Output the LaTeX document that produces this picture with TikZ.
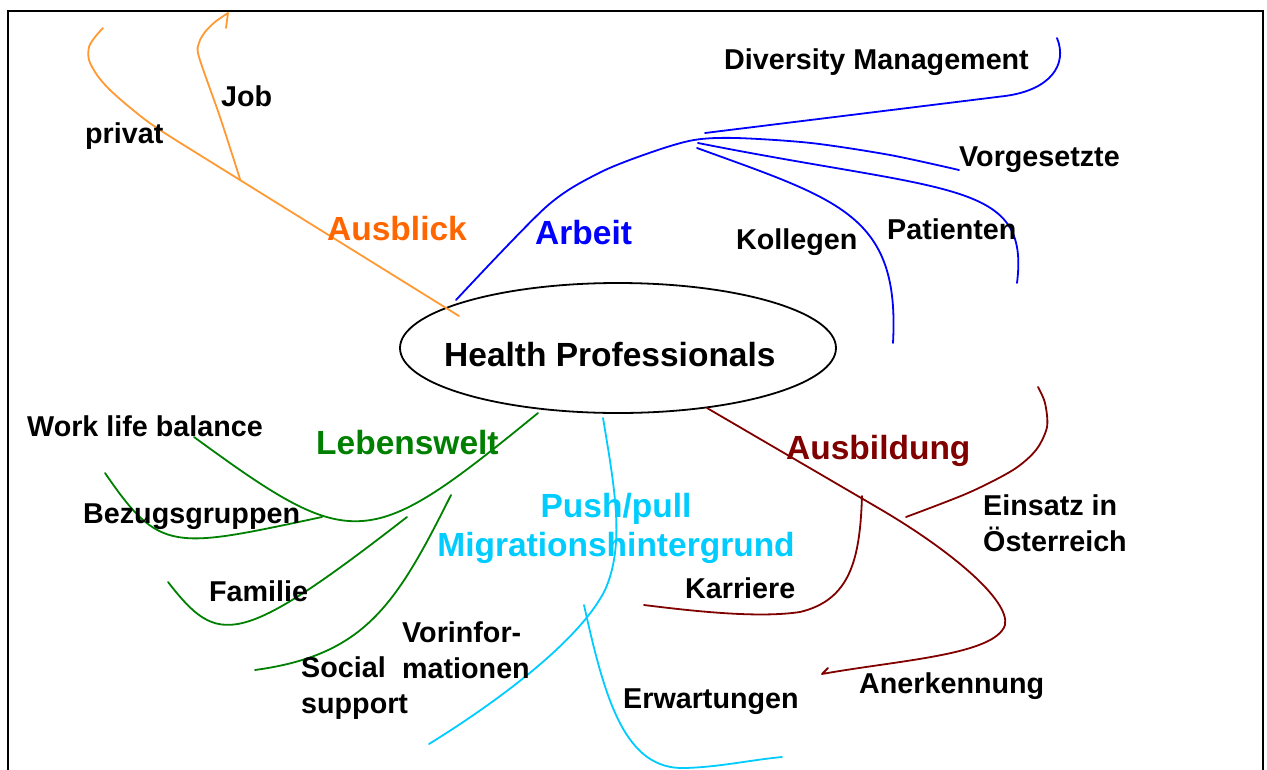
\documentclass[tikz,border=0pt]{standalone}
\usepackage{fontspec}
\setmainfont{Liberation Sans}
\usepackage{xcolor}
\usepackage{tikz}
\usetikzlibrary{shapes.geometric}

\definecolor{orangeline}{RGB}{255,153,51}
\definecolor{orangetext}{RGB}{255,102,0}
\definecolor{arbeitblue}{RGB}{0,0,255}
\definecolor{lebensgreen}{RGB}{0,128,0}
\definecolor{pushcyan}{RGB}{0,204,255}
\definecolor{ausbildred}{RGB}{128,0,0}

\begin{document}
\begin{tikzpicture}[
    x                 = 1pt,
    y                 = -1pt,
    every node/.style = {inner sep=0pt, font=\fontsize{28.7}{36}\selectfont\bfseries},
    topic/.style      = {font=\fontsize{33.5}{39}\selectfont\bfseries},
    branch/.style     = {line width=1.8pt, line join=round, line cap=round},
    label/.style      = {anchor=base west, align=left}
  ]
\useasboundingbox (0,0) rectangle (1267,769);
\draw[line width=2pt] (8,775) -- (8,11) -- (1263,11) -- (1263,775);

% centre
\node[draw, ellipse, line width=1.8pt, minimum width=436, minimum height=130] (hp) at (618,348) {};
\node[topic, anchor=base west] (hptext) at (444,366) {Health Professionals};

% Ausblick
\draw[branch, orangeline] plot[smooth] coordinates {(459,316) (240,180) (160,130) (133,110) (110,90) (97,75) (89,60) (89,47) (95,37) (103,28)};
\draw[branch, orangeline] plot[smooth] coordinates {(240,179) (220,117) (199,57) (199,43) (205,32) (215,22) (228,13)} -- (226,28);
\node[topic, label, orangetext] (ausblick) at (327,240) {Ausblick};
\node[label] (privat) at (85,143) {privat};
\node[label] (job) at (221,106) {Job};

% Arbeit
\draw[branch, arbeitblue] plot[smooth] coordinates {(456,300) (546,207) (599,173) (652,152) (694,140) (736,138) (811,143) (890,155) (959,170)};
\draw[branch, arbeitblue] (705,133) -- (1005,96) .. controls (1050,90) and (1068,65) .. (1057,38);
\draw[branch, arbeitblue] (698,143) .. controls (950,193) and (1030,180) .. (1017,283);
\draw[branch, arbeitblue] (697,148) .. controls (840,200) and (900,215) .. (893,343);
\node[topic, label, arbeitblue] (arbeit) at (535,244) {Arbeit};
\node[label] (diversity) at (724,69) {Diversity Management};
\node[label] (vorgesetzte) at (959,166) {Vorgesetzte};
\node[label] (patienten) at (887,239) {Patienten};
\node[label] (kollegen) at (736,249) {Kollegen};

% Lebenswelt
\draw[branch, lebensgreen] (538,413) .. controls (368,552) and (354,554) .. (194,437);
\draw[branch, lebensgreen] (322,517) .. controls (172,549) and (160,553) .. (105,473);
\draw[branch, lebensgreen] (407,517) .. controls (237,649) and (218,646) .. (168,582);
\draw[branch, lebensgreen] (451,495) .. controls (396,605) and (365,655) .. (255,670);
\node[topic, label, lebensgreen] (lebenswelt) at (316,454) {Lebenswelt};
\node[label] (worklife) at (27,436) {Work life balance};
\node[label] (bezug) at (83,523) {Bezugsgruppen};
\node[label] (familie) at (209,601) {Familie};
\node[label] (social) at (301,713) {Social\\support};

% Push/pull
\draw[branch, pushcyan] (603,418) .. controls (615,490) and (625,545) .. (605,590)
                                  .. controls (580,640) and (500,700) .. (429,744);
\draw[branch, pushcyan] (584,605) .. controls (605,700) and (625,770) .. (685,768)
                                  .. controls (720,767) and (750,760) .. (782,757);
\node[topic, anchor=base, align=center, pushcyan] (push) at (616,556) {Push/pull\\Migrationshintergrund};
\node[label] (vorinfo) at (402,678) {Vorinfor-\\mationen};
\node[label] (erwartungen) at (623,708) {Erwartungen};

% Ausbildung
\draw[branch, ausbildred] (707,408) -- (880,509) .. controls (950,550) and (1010,600) .. (1005,625)
                                    .. controls (995,655) and (900,660) .. (822,674) -- (828,668);
\draw[branch, ausbildred] (862,496) .. controls (860,560) and (850,600) .. (800,612)
                                    .. controls (760,618) and (700,612) .. (644,605);
\draw[branch, ausbildred] plot[smooth] coordinates {(906,517) (968,493) (1013,470) (1036,450) (1047,427) (1045,403) (1038,387)};
\node[topic, label, ausbildred] (ausbildung) at (786,459) {Ausbildung};
\node[label] (karriere) at (685,598) {Karriere};
\node[label] (einsatz) at (983,551) {Einsatz in\\Österreich};
\node[label] (anerkennung) at (859,693) {Anerkennung};
\end{tikzpicture}
\end{document}
